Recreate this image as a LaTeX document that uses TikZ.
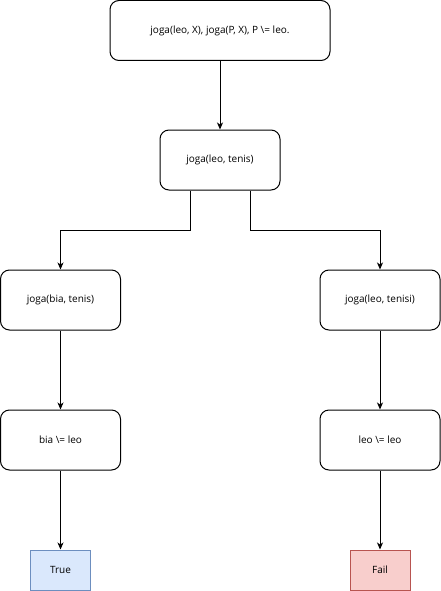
\documentclass[tikz,border=0pt]{standalone}
\usepackage{fontspec}
\setmainfont{Open Sans}
\usepackage{xcolor}
\usetikzlibrary{arrows.meta}
\definecolor{truefill}{HTML}{DAE8FC}
\definecolor{trueline}{HTML}{6C8EBF}
\definecolor{failfill}{HTML}{F8CECC}
\definecolor{failline}{HTML}{B85450}
\begin{document}
\begin{tikzpicture}[x=1pt,y=-1pt,line width=1pt,
    goal/.style={draw,rounded corners=9pt,minimum width=120pt,minimum height=60pt,font=\fontsize{10}{12}\selectfont,inner sep=0pt},
    result/.style={draw,minimum width=60pt,minimum height=40pt,font=\fontsize{10}{12}\selectfont,inner sep=0pt},
    >={Stealth[length=7pt,width=6pt,inset=2pt]}]
  \useasboundingbox (0,0) rectangle (441,591);
  \node [goal,minimum width=220pt] (query) at (220,30.5) {joga(leo, X), joga(P, X), P \textbackslash= leo.};
  \node [goal] (leotenis) at (220,160) {joga(leo, tenis)};
  \node [goal] (biatenis) at (60.5,300) {joga(bia, tenis)};
  \node [goal] (leotenisi) at (380,300) {joga(leo, tenisi)};
  \node [goal] (bianeq) at (60.5,440) {bia \textbackslash= leo};
  \node [goal] (leoneq) at (380,440) {leo \textbackslash= leo};
  \node [result,fill=truefill,draw=trueline] (true) at (60.5,570) {True};
  \node [result,fill=failfill,draw=failline] (fail) at (380,570) {Fail};
  \draw [->] (query) -- (leotenis);
  \draw [->] ([xshift=-30pt]leotenis.south) -- ++(0,40) -| (biatenis.north);
  \draw [->] ([xshift=30pt]leotenis.south) -- ++(0,40) -| (leotenisi.north);
  \draw [->] (biatenis) -- (bianeq);
  \draw [->] (leotenisi) -- (leoneq);
  \draw [->] (bianeq) -- (true);
  \draw [->] (leoneq) -- (fail);
\end{tikzpicture}
\end{document}
